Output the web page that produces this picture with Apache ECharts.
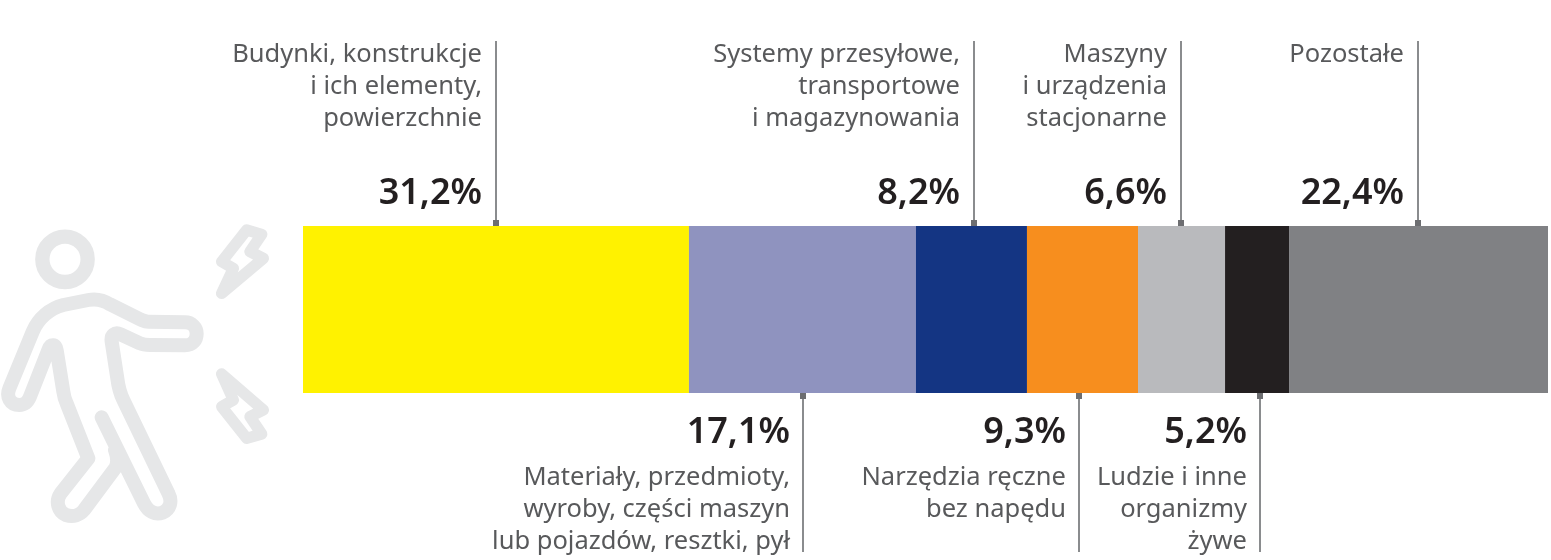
<!DOCTYPE html>
<html>
<head>
<meta charset="utf-8">
<title>Wypadki - przyczyny</title>
<style>
html,body{margin:0;padding:0;background:#fff}
#chart{width:1551px;height:560px}
</style>
<script src="https://cdn.jsdelivr.net/npm/echarts@6/dist/echarts.min.js"></script>
</head>
<body>
<div id="chart"></div>
<script>
const categories = [
  ['Budynki, konstrukcje', 'i ich elementy,', 'powierzchnie'],
  ['Materiały, przedmioty,', 'wyroby, części maszyn', 'lub pojazdów, resztki, pył'],
  ['Systemy przesyłowe,', 'transportowe', 'i magazynowania'],
  ['Narzędzia ręczne', 'bez napędu'],
  ['Maszyny', 'i urządzenia', 'stacjonarne'],
  ['Ludzie i inne', 'organizmy', 'żywe'],
  ['Pozostałe']
];
// printed percentages
const printedValues = [31.2, 17.1, 8.2, 9.3, 6.6, 5.2, 22.4];
// segment widths as drawn in the picture (not quite the printed shares)
const drawnWidths = [31.0, 18.23, 8.92, 8.92, 6.99, 5.14, 20.8];
// where each leader line meets the bar, on the same 0-100 axis
const leaderAt = [15.5, 40.16, 53.87, 62.3, 70.56, 76.85, 89.55];
const labelSide = ['top', 'bottom', 'top', 'bottom', 'top', 'bottom', 'top'];
const colors = ['#fff200', '#8f93bf', '#143583', '#f78e1e', '#b9babd', '#231f20', '#808184'];

const fontName = '"Noto Sans"';
const iconColor = '#e6e7e8';

function renderLeader(params, api) {
  const i = api.value(1);
  const p = api.coord([api.value(0), 0]);
  const band = api.size([0, 1])[1];
  const barTop = p[1] - band / 2;
  const barBottom = p[1] + band / 2;
  const x = Math.round(p[0]);
  const top = labelSide[i] === 'top';
  const pct = printedValues[i].toFixed(1).replace('.', ',') + '%';
  const names = categories[i].join('\n');
  const textX = top ? x - 14 : x - 13;
  return {
    type: 'group',
    silent: true,
    children: [
      {
        type: 'line',
        shape: top ? {x1: x, y1: 41, x2: x, y2: barTop} : {x1: x, y1: barBottom, x2: x, y2: barBottom + 159},
        style: {stroke: '#8a8c8e', lineWidth: 2}
      },
      {
        type: 'rect',
        shape: {x: x - 3, y: top ? barTop - 6 : barBottom, width: 6, height: 6},
        style: {fill: '#6d6e71'}
      },
      {
        type: 'text',
        style: {
          x: textX, y: top ? barTop - 32 : barBottom + 40,
          text: pct, align: 'right', verticalAlign: 'middle',
          font: '600 36px ' + fontName, fill: '#231f20'
        }
      },
      {
        type: 'text',
        style: {
          x: textX, y: top ? barTop - 187 : barBottom + 69,
          text: names, align: 'right', verticalAlign: 'top',
          font: '400 25.5px ' + fontName, lineHeight: 32, fill: '#58595b'
        }
      }
    ]
  };
}

// the icon is decoration, traced in 3x coordinates
function iconPath(pathData, width) {
  return {
    type: 'path',
    x: 0, y: 210, scaleX: 1 / 3, scaleY: 1 / 3,
    shape: {pathData: pathData},
    style: {fill: 'none', stroke: iconColor, lineWidth: width, lineJoin: 'round', lineCap: 'round'}
  };
}

function renderIcon() {
  return {
    type: 'group',
    silent: true,
    children: [
      iconPath('M305 622 L432 880 C445 905 465 916 488 908 C510 898 518 875 505 850 L370 570 C358 545 355 530 352 505 L335 395 C332 375 345 365 362 373 L420 400 C430 405 440 405 450 405 L555 406 C578 406 590 390 590 371 C590 352 575 337 555 337 L445 335 C435 335 430 332 420 328 L330 283 C310 270 290 265 265 270 L190 285 C150 295 115 325 98 365 L28 535 C18 560 30 585 58 585 C78 585 85 572 90 560 L145 420 C152 400 168 402 170 420 L190 545 C192 560 195 570 200 580 L265 745 L182 850 C165 875 175 905 198 915 C220 922 240 915 252 900 L345 775 C355 760 352 740 345 720', 42),
      iconPath('M740 60 L785 73 L750 125 L790 145 L665 250 L700 175 L665 155 Z', 34),
      iconPath('M740 685 L785 672 L750 620 L790 600 L665 492 L700 570 L665 590 Z', 34)
    ]
  };
}

const chart = echarts.init(document.getElementById('chart'), null, {renderer: 'canvas'});

const barSeries = drawnWidths.map((v, i) => ({
  type: 'bar',
  stack: 'all',
  barWidth: '100%',
  silent: true,
  itemStyle: {color: colors[i]},
  data: [v]
}));

chart.setOption({
  animation: false,
  backgroundColor: '#fff',
  grid: {left: 303, right: 3, top: 226, height: 167},
  xAxis: {type: 'value', min: 0, max: 100, show: false},
  yAxis: {type: 'category', data: ['udział'], show: false},
  graphic: [
    {type: 'circle', x: 0, y: 210, scaleX: 1 / 3, scaleY: 1 / 3, silent: true,
      shape: {cx: 195, cy: 148, r: 68},
      style: {fill: 'none', stroke: iconColor, lineWidth: 43}}
  ],
  series: barSeries.concat([{
    type: 'custom',
    renderItem: renderLeader,
    clip: false,
    silent: true,
    encode: {x: 0},
    data: leaderAt.map((x, i) => [x, i]),
    z: 5
  }, {
    type: 'custom',
    renderItem: renderIcon,
    clip: false,
    silent: true,
    data: [[0, 0]]
  }])
});
</script>
</body>
</html>
